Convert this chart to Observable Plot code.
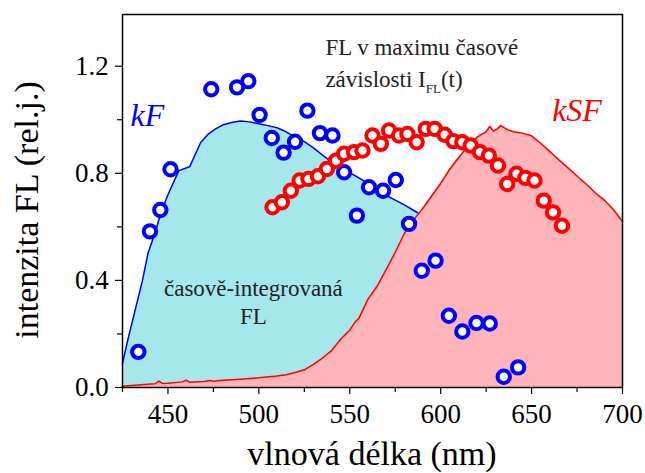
<!DOCTYPE html>
<html><head><meta charset="utf-8">
<script src="https://cdn.jsdelivr.net/npm/d3@7"></script>
<script src="https://cdn.jsdelivr.net/npm/@observablehq/plot@0.6"></script>
<style>body{margin:0;background:#fff} svg{display:block}</style>
</head><body><div id="chart"></div>
<script>
// time-integrated FL spectrum, kF (blue)
const kfWl  = [425, 428, 432, 436, 439, 443, 446, 450, 454, 456, 460, 462, 465, 468, 472, 476, 480, 485, 490, 495, 500, 505, 510, 515, 520, 525, 530, 535, 540, 545, 550, 555, 560, 565, 570, 575, 580, 585, 590, 595, 600, 610, 620];
const kfVal = [0.09, 0.18, 0.29, 0.40, 0.50, 0.58, 0.65, 0.72, 0.78, 0.81, 0.82, 0.825, 0.87, 0.915, 0.945, 0.965, 0.98, 0.99, 0.995, 0.992, 0.985, 0.978, 0.97, 0.955, 0.935, 0.918, 0.895, 0.868, 0.843, 0.82, 0.802, 0.783, 0.762, 0.74, 0.718, 0.70, 0.682, 0.662, 0.642, 0.62, 0.598, 0.55, 0.50];
// time-integrated FL spectrum, kSF (red)
const ksfWl  = [425, 435, 443, 445, 447, 450, 458, 460, 462, 470, 473, 475, 480, 490, 500, 510, 515, 520, 525, 530, 535, 540, 545, 550, 553, 555, 560, 565, 570, 575, 580, 585, 590, 595, 600, 605, 610, 615, 620, 625, 627, 629, 631, 633, 637, 640, 645, 650, 655, 660, 665, 670, 675, 680, 685, 690, 695, 700];
const ksfVal = [0.005, 0.010, 0.014, 0.024, 0.015, 0.016, 0.021, 0.027, 0.020, 0.022, 0.026, 0.023, 0.027, 0.031, 0.036, 0.043, 0.048, 0.056, 0.066, 0.086, 0.110, 0.138, 0.180, 0.215, 0.245, 0.258, 0.330, 0.378, 0.440, 0.505, 0.575, 0.625, 0.667, 0.715, 0.762, 0.815, 0.860, 0.900, 0.935, 0.955, 0.975, 0.958, 0.965, 0.978, 0.962, 0.955, 0.950, 0.940, 0.912, 0.882, 0.850, 0.820, 0.790, 0.760, 0.727, 0.700, 0.665, 0.620];
// FL at maximum of time dependence, kF points (blue)
const blueWl  = [433.7, 440.1, 445.8, 451.4, 473.8, 488.0, 494.2, 500.4, 507.1, 513.6, 519.9, 526.7, 533.6, 540.5, 546.9, 553.9, 560.6, 568.3, 575.3, 582.6, 589.6, 597.2, 604.5, 611.9, 619.7, 627.0, 634.7, 642.6];
const blueVal = [0.133, 0.583, 0.663, 0.815, 1.114, 1.121, 1.144, 1.018, 0.932, 0.877, 0.918, 1.034, 0.950, 0.941, 0.804, 0.642, 0.748, 0.735, 0.775, 0.611, 0.436, 0.474, 0.268, 0.209, 0.241, 0.239, 0.040, 0.075];
// kSF points (red)
const redWl  = [507.5, 512.7, 517.6, 522.4, 527.3, 532.5, 537.4, 542.4, 546.9, 552.4, 557.0, 562.5, 567.1, 571.6, 577.1, 581.7, 586.8, 591.8, 596.7, 602.2, 607.0, 611.9, 616.5, 621.6, 626.5, 631.5, 636.6, 641.7, 646.6, 651.6, 656.7, 661.8, 666.7];
const redVal = [0.673, 0.692, 0.735, 0.773, 0.779, 0.789, 0.816, 0.847, 0.873, 0.879, 0.885, 0.941, 0.910, 0.960, 0.941, 0.947, 0.916, 0.966, 0.966, 0.944, 0.920, 0.916, 0.904, 0.879, 0.866, 0.829, 0.760, 0.798, 0.783, 0.773, 0.698, 0.654, 0.604];

const xMajor = [450, 500, 550, 600, 650, 700];
const xMinor = [425, 475, 525, 575, 625, 675];
const yMajor = [0.0, 0.4, 0.8, 1.2];
const yMinor = [0.2, 0.6, 1.0];

const kf = kfWl.map((w, i) => ({w, v: kfVal[i]}));
const ksf = ksfWl.map((w, i) => ({w, v: ksfVal[i]}));
const blue = blueWl.map((w, i) => ({w, v: blueVal[i]}));
const red = redWl.map((w, i) => ({w, v: redVal[i]}));

const serif = "Liberation Serif, Tinos, Times New Roman, DejaVu Serif, Noto Serif, serif";

const chart = Plot.plot({
  width: 645, height: 473,
  marginLeft: 122, marginRight: 23, marginTop: 14, marginBottom: 86,
  style: {fontFamily: serif, background: "white", color: "black", overflow: "visible"},
  x: {domain: [425, 700]},
  y: {domain: [0, 1.393]},
  marks: [
    Plot.areaY(kf, {x: "w", y: "v", fill: "#a4e8ec"}),
    Plot.lineY(kf, {x: "w", y: "v", stroke: "#0000ff", strokeWidth: 1.5}),
    Plot.areaY(ksf, {x: "w", y: "v", fill: "#ffb4b9"}),
    Plot.lineY(ksf, {x: "w", y: "v", stroke: "#ff0000", strokeWidth: 1.5}),
    Plot.dot(blue, {x: "w", y: "v", r: 6.2, stroke: "#0000ff", strokeWidth: 4, fill: "white"}),
    Plot.dot(red, {x: "w", y: "v", r: 6.2, stroke: "#ff0000", strokeWidth: 4, fill: "white"}),
    Plot.frame({stroke: "black", strokeWidth: 1.5}),
    Plot.axisX({ticks: xMajor, tickSize: 7, tickPadding: 9.5, fontSize: 27, fontFamily: serif, label: null, tickFormat: d => String(d), stroke: "black", strokeWidth: 1.2}),
    Plot.axisX({ticks: xMinor, tickSize: 5, text: null, label: null, stroke: "black", strokeWidth: 1.2}),
    Plot.axisY({ticks: yMajor, tickSize: 7, tickPadding: 6.7, fontSize: 27, fontFamily: serif, label: null, tickFormat: d3.format(".1f"), stroke: "black", strokeWidth: 1.2}),
    Plot.axisY({ticks: yMinor, tickSize: 5, text: null, label: null, stroke: "black", strokeWidth: 1.2}),
    Plot.text(["kF"], {x: 429.4, y: 0.975, text: d => d, textAnchor: "start", lineAnchor: "bottom", fontSize: 32, fontFamily: serif, fontStyle: "italic", fill: "#0000ff"}),
    Plot.text(["kSF"], {x: 661.3, y: 0.997, text: d => d, textAnchor: "start", lineAnchor: "bottom", fontSize: 32, fontFamily: serif, fontStyle: "italic", fill: "#ff0000"}),
    Plot.text(["FL v maximu časové"], {x: 536.6, y: 1.242, text: d => d, textAnchor: "start", lineAnchor: "bottom", fontSize: 23, fontFamily: serif, fill: "#222"}),
    Plot.text(["závislosti I|FL|(t)"], {x: 536.6, y: 1.124, text: d => d, textAnchor: "start", lineAnchor: "bottom", fontSize: 23, fontFamily: serif, fill: "#222"}),
    Plot.text(["časově-integrovaná"], {x: 497, y: 0.3435, text: d => d, textAnchor: "middle", lineAnchor: "bottom", fontSize: 23, fontFamily: serif, fill: "#222"}),
    Plot.text(["FL"], {x: 497, y: 0.238, text: d => d, textAnchor: "middle", lineAnchor: "bottom", fontSize: 23, fontFamily: serif, fill: "#222"})
  ]
});

const svg = d3.select(chart);
svg.selectAll("text").filter(function () { return this.textContent === "závislosti I|FL|(t)"; })
  .each(function () {
    const t = d3.select(this);
    t.text(null);
    t.append("tspan").text("závislosti I");
    t.append("tspan").attr("dy", 6).attr("font-size", 13).text("FL");
    t.append("tspan").attr("dy", -6).text("(t)");
  });
svg.append("text").attr("x", 372).attr("y", 465).attr("text-anchor", "middle")
  .attr("font-family", serif).attr("font-size", 34).attr("fill", "black").text("vlnová délka (nm)");
svg.append("text").attr("transform", "translate(38,210) rotate(-90)").attr("text-anchor", "middle")
  .attr("font-family", serif).attr("font-size", 34).attr("fill", "black").text("intenzita FL (rel.j.)");

document.getElementById("chart").appendChild(chart);
</script>
</body></html>
